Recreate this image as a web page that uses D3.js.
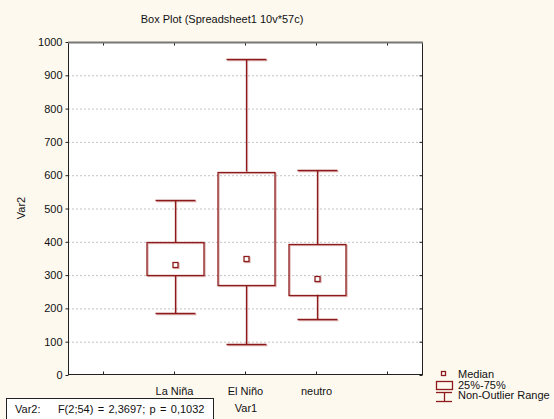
<!DOCTYPE html>
<html>
<head>
<meta charset="utf-8">
<script src="https://cdn.jsdelivr.net/npm/d3@7"></script>
<style>
  html, body { margin: 0; padding: 0; background: #fef9ef; }
  svg { display: block; font-family: Arial, "Liberation Sans", sans-serif; }
</style>
</head>
<body>
<svg id="chart" width="554" height="419"></svg>
<script>
// Groups and their summary statistics (Var2 by Var1)
const categories = ["La Niña", "El Niño", "neutro"];
const whiskerLow = [186, 93, 168];
const q1 = [299, 269, 241];
const medians = [329, 347, 287];
const q3 = [399, 611, 393];
const whiskerHigh = [525, 948, 615];
const yTicks = [0, 100, 200, 300, 400, 500, 600, 700, 800, 900, 1000];
const xSlots = ["", "La Niña", "El Niño", "neutro", ""];

const svg = d3.select("#chart");
const W = 554, H = 419;
const m = { left: 68, top: 42, right: 423, bottom: 375 };
const red = "#8e1b1b";
const shadow = "rgba(160,40,40,0.35)";

svg.append("rect").attr("width", W).attr("height", H).attr("fill", "#fef9ef");

const x = d3.scaleBand().domain(xSlots.map((d, i) => i)).range([m.left, m.right]);
const y = d3.scaleLinear().domain([0, 1000]).range([m.bottom, m.top]);

// plot area
svg.append("rect")
  .attr("x", m.left).attr("y", m.top)
  .attr("width", m.right - m.left).attr("height", m.bottom - m.top)
  .attr("fill", "#fff");

// dotted gridlines
svg.append("g").selectAll("line")
  .data(yTicks.filter(t => t > 0 && t < 1000))
  .join("line")
  .attr("x1", m.left).attr("x2", m.right)
  .attr("y1", d => y(d) + 0.5).attr("y2", d => y(d) + 0.5)
  .attr("stroke", "#c4c4c4").attr("stroke-width", 1)
  .attr("stroke-dasharray", "2,2");

// left axis
const yAxis = d3.axisLeft(y).tickValues(yTicks).tickSize(3).tickPadding(3).tickFormat(d3.format("d"));
const gy = svg.append("g").attr("transform", `translate(${m.left + 0.5},0)`).call(yAxis);
gy.select(".domain").remove();
gy.selectAll("line").attr("stroke", "#222");
gy.selectAll("text").attr("font-size", 11).attr("fill", "#111");

// right axis ticks (inward)
const gyr = svg.append("g").attr("transform", `translate(${m.right - 0.5},0)`)
  .call(d3.axisRight(y).tickValues(yTicks).tickSize(-3).tickFormat(""));
gyr.select(".domain").remove();
gyr.selectAll("line").attr("stroke", "#222");

// bottom axis
const xPos = i => x(i) + x.bandwidth() / 2;
const gx = svg.append("g").attr("transform", `translate(0,${m.bottom - 0.5})`)
  .call(d3.axisBottom(x).tickSize(-3).tickPadding(13).tickFormat(i => xSlots[i]));
gx.select(".domain").remove();
gx.selectAll("line").attr("stroke", "#222");
gx.selectAll("text").attr("font-size", 11).attr("fill", "#111");

// top axis ticks (inward)
const gxt = svg.append("g").attr("transform", `translate(0,${m.top + 0.5})`)
  .call(d3.axisTop(x).tickSize(-3).tickFormat(""));
gxt.select(".domain").remove();
gxt.selectAll("line").attr("stroke", "#222");

// frame
svg.append("rect")
  .attr("x", m.left + 0.5).attr("y", m.top + 0.5)
  .attr("width", m.right - m.left - 1).attr("height", m.bottom - m.top - 1)
  .attr("fill", "none").attr("stroke", "#222").attr("stroke-width", 1);
svg.append("line").attr("x1", m.left).attr("x2", m.right).attr("y1", m.top + 0.5).attr("y2", m.top + 0.5)
  .attr("stroke", "#777").attr("stroke-width", 2);

// boxes
const boxW = 57, capW = 40;
const data = categories.map((c, i) => ({
  c, lo: whiskerLow[i], q1: q1[i], med: medians[i], q3: q3[i], hi: whiskerHigh[i],
  cx: Math.round(xPos(xSlots.indexOf(c))) + 0.5
}));

function drawBoxes(g, stroke, dx) {
  const b = g.selectAll("g").data(data).join("g").attr("transform", `translate(${dx},${dx})`);
  b.append("line").attr("x1", d => d.cx).attr("x2", d => d.cx)
    .attr("y1", d => y(d.hi)).attr("y2", d => y(d.q3)).attr("stroke", stroke).attr("stroke-width", 1.3);
  b.append("line").attr("x1", d => d.cx).attr("x2", d => d.cx)
    .attr("y1", d => y(d.q1)).attr("y2", d => y(d.lo)).attr("stroke", stroke).attr("stroke-width", 1.3);
  b.append("line").attr("x1", d => d.cx - capW / 2).attr("x2", d => d.cx + capW / 2)
    .attr("y1", d => Math.round(y(d.hi)) + 0.5).attr("y2", d => Math.round(y(d.hi)) + 0.5)
    .attr("stroke", stroke).attr("stroke-width", 1.3);
  b.append("line").attr("x1", d => d.cx - capW / 2).attr("x2", d => d.cx + capW / 2)
    .attr("y1", d => Math.round(y(d.lo)) + 0.5).attr("y2", d => Math.round(y(d.lo)) + 0.5)
    .attr("stroke", stroke).attr("stroke-width", 1.3);
  b.append("rect").attr("x", d => d.cx - boxW / 2).attr("width", boxW)
    .attr("y", d => Math.round(y(d.q3)) + 0.5).attr("height", d => Math.round(y(d.q1)) - Math.round(y(d.q3)))
    .attr("fill", "none").attr("stroke", stroke).attr("stroke-width", 1.3);
  b.append("rect").attr("x", d => d.cx - 2.5).attr("width", 5)
    .attr("y", d => Math.round(y(d.med)) - 2.5).attr("height", 5)
    .attr("fill", "#fff").attr("stroke", stroke).attr("stroke-width", 1.3);
}
drawBoxes(svg.append("g"), shadow, 1);
drawBoxes(svg.append("g"), red, 0);

// title and axis titles
svg.append("text").attr("x", 222).attr("y", 23).attr("text-anchor", "middle")
  .attr("font-size", 11).attr("fill", "#111").text("Box Plot (Spreadsheet1 10v*57c)");
svg.append("text").attr("transform", "translate(25,208) rotate(-90)").attr("text-anchor", "middle")
  .attr("font-size", 11).attr("fill", "#111").text("Var2");
svg.append("text").attr("x", 246).attr("y", 412).attr("text-anchor", "middle")
  .attr("font-size", 11).attr("fill", "#111").text("Var1");

// statistics box
svg.append("rect").attr("x", 6.5).attr("y", 398.5).attr("width", 207).attr("height", 25)
  .attr("fill", "#fff").attr("stroke", "#222");
svg.append("text").attr("x", 15).attr("y", 413).attr("font-size", 11).attr("fill", "#111")
  .attr("word-spacing", "1.3px")
  .attr("xml:space", "preserve").text("Var2:    F(2;54) = 2,3697; p = 0,1032");

// legend
const lg = svg.append("g");
lg.append("rect").attr("x", 441.5).attr("y", 371.5).attr("width", 4).attr("height", 4)
  .attr("fill", "#fff").attr("stroke", red).attr("stroke-width", 1.3);
lg.append("rect").attr("x", 436.5).attr("y", 381.5).attr("width", 16).attr("height", 8)
  .attr("fill", "none").attr("stroke", red).attr("stroke-width", 1.3);
lg.append("line").attr("x1", 436).attr("x2", 452).attr("y1", 392.5).attr("y2", 392.5).attr("stroke", red).attr("stroke-width", 1.3);
lg.append("line").attr("x1", 436).attr("x2", 452).attr("y1", 401.5).attr("y2", 401.5).attr("stroke", red).attr("stroke-width", 1.3);
lg.append("line").attr("x1", 444.5).attr("x2", 444.5).attr("y1", 392).attr("y2", 402).attr("stroke", red).attr("stroke-width", 1.3);
const legendText = ["Median", "25%-75%", "Non-Outlier Range"];
lg.selectAll("text.l").data(legendText).join("text")
  .attr("x", 458).attr("y", (d, i) => 378 + i * 10.5)
  .attr("font-size", 11).attr("fill", "#111").text(d => d);
</script>
</body>
</html>
